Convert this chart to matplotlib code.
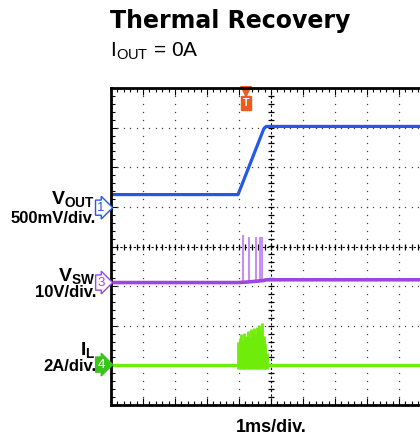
import numpy as np
import matplotlib
matplotlib.use("Agg")
import matplotlib.pyplot as plt
from matplotlib.ticker import MultipleLocator

plt.rcParams['font.family'] = ['Liberation Sans', 'DejaVu Sans']
plt.rcParams['mathtext.fontset'] = 'custom'
plt.rcParams['mathtext.rm'] = 'Liberation Sans'
plt.rcParams['mathtext.bf'] = 'Liberation Sans:bold'

# screen units: x in time divisions (0..10), y in vertical divisions (-4..4)
vout_t = [0.0, 3.97, 4.78, 4.85, 10.0]
vout_v = [1.31, 1.31, 2.98, 3.03, 3.03]

vsw_t = [0.0, 3.95, 4.2, 4.5, 4.75, 4.85, 10.0]
vsw_v = [-0.91, -0.91, -0.90, -0.88, -0.86, -0.84, -0.84]
vsw_spike_t = [4.12, 4.31, 4.53, 4.66, 4.72]
vsw_spike_top = [0.28, 0.23, 0.25, 0.23, 0.23]

il_t = [0.0, 10.0]
il_v = [-2.98, -2.98]
il_burst_t = [3.97, 4.02, 4.07, 4.12, 4.17, 4.22, 4.27, 4.32, 4.37, 4.42,
              4.47, 4.52, 4.57, 4.62, 4.67, 4.72, 4.77, 4.82, 4.87]
il_burst_top = [-2.40, -2.30, -2.22, -2.35, -2.18, -2.25, -2.12, -2.28, -2.08, -2.15,
                -2.05, -2.20, -2.02, -1.98, -2.10, -1.92, -2.25, -2.45, -2.70]

trig_t = 4.22
ch_levels = [0.98, -0.91, -2.98]
ch_names = ['1', '3', '4']
ch_signals = [r'$\mathbf{V_{OUT}}$', r'$\mathbf{V_{SW}}$', r'$\mathbf{I_{L}}$']
ch_scales = ['500mV/div.', '10V/div.', '2A/div.']

BLUE = '#2458e8'
PURPLE = '#9a48e0'
PURPLE_LT = '#c590f2'
GREEN = '#6fec0a'
ORANGE = '#f05a1e'

W, H = 420, 437
fig = plt.figure(figsize=(W / 100, H / 100), dpi=100)
x0, y_top, y_bot, divpx = 111, 88, 405, 32
ax = fig.add_axes([x0 / W, 1 - y_bot / H, 10 * divpx / W, (y_bot - y_top) / H])
ax.set_xlim(0, 10)
ax.set_ylim(-4, 4)

# dotted graticule
for gx in range(1, 10):
    if gx == 5:
        continue
    ys = np.arange(-4, 4.01, 0.2)
    ax.plot(np.full_like(ys, gx), ys, ls='none', marker='s', ms=0.9, color='#444444', mew=0)
for gy in range(-3, 4):
    if gy == 0:
        continue
    xs = np.arange(0, 10.01, 0.2)
    ax.plot(xs, np.full_like(xs, gy), ls='none', marker='s', ms=0.9, color='#444444', mew=0)

# centre lines with small ticks
ax.axvline(5, color='black', lw=0.8, ls=(0, (2, 2)))
ax.axhline(0, color='black', lw=0.8, ls=(0, (2, 2)))
ys = np.arange(-4, 4.01, 0.2)
ax.plot(np.full_like(ys, 5), ys, ls='none', marker='_', ms=5, mew=0.9, color='black')
xs = np.arange(0, 10.01, 0.2)
ax.plot(xs, np.zeros_like(xs), ls='none', marker='|', ms=5, mew=0.9, color='black')

# traces
ax.plot(vout_t, vout_v, color=BLUE, lw=2.3, solid_joinstyle='round')
ax.vlines(vsw_spike_t, -0.9, vsw_spike_top, color=PURPLE_LT, lw=1.5)
ax.plot(vsw_t, vsw_v, color=PURPLE, lw=2.6)
ax.vlines(il_burst_t, -3.1, il_burst_top, color=GREEN, lw=2.0)
ax.plot(il_t, il_v, color=GREEN, lw=2.4)

# frame and edge ticks
ax.xaxis.set_major_locator(MultipleLocator(1))
ax.xaxis.set_minor_locator(MultipleLocator(0.2))
ax.yaxis.set_major_locator(MultipleLocator(1))
ax.yaxis.set_minor_locator(MultipleLocator(0.2))
ax.tick_params(which='both', direction='in', top=True, right=True,
               labelbottom=False, labelleft=False, color='black')
ax.tick_params(which='major', length=5, width=0.8)
ax.tick_params(which='minor', length=3, width=0.8)
for s in ax.spines.values():
    s.set_linewidth(2.0)

# trigger marker
ax.plot([trig_t], [3.9], marker='v', ms=8, color=ORANGE, clip_on=False, mew=0)
ax.text(trig_t, 3.62, 'T', ha='center', va='center', fontsize=7.5, color='white',
        fontweight='bold', bbox=dict(boxstyle='square,pad=0.2', fc=ORANGE, ec=ORANGE))

# channel markers
ch_styles = [dict(fc='white', ec=BLUE, tc=BLUE), dict(fc='white', ec=PURPLE, tc=PURPLE),
             dict(fc='#3cc41e', ec='#3cc41e', tc='white')]
for lvl, name, st in zip(ch_levels, ch_names, ch_styles):
    ax.text(-0.2, lvl, name, ha='right', va='center', fontsize=9.5, color=st['tc'],
            clip_on=False,
            bbox=dict(boxstyle='rarrow,pad=0.12', fc=st['fc'], ec=st['ec'], lw=1.0))

# text
def px(x, y):
    return x / W, 1 - y / H

fig.text(*px(110, 28), 'Thermal Recovery', fontsize=17, fontweight='bold', va='baseline',
         family='DejaVu Sans')
fig.text(*px(110, 56), r'I$_{\mathregular{OUT}}$ = 0A', fontsize=15, va='baseline')
fig.text(*px(271, 432), '1ms/div.', fontsize=13, fontweight='bold', ha='center', va='baseline')

sig_base = [204, 281, 355]
scale_base = [223, 297, 371]
for sig, scl, yb1, yb2 in zip(ch_signals, ch_scales, sig_base, scale_base):
    fig.text(*px(95, yb1), sig, fontsize=14, ha='right', va='baseline')
    fig.text(*px(96, yb2), scl, fontsize=12, ha='right', va='baseline', fontweight='bold')

fig.savefig('out.png', dpi=100)
